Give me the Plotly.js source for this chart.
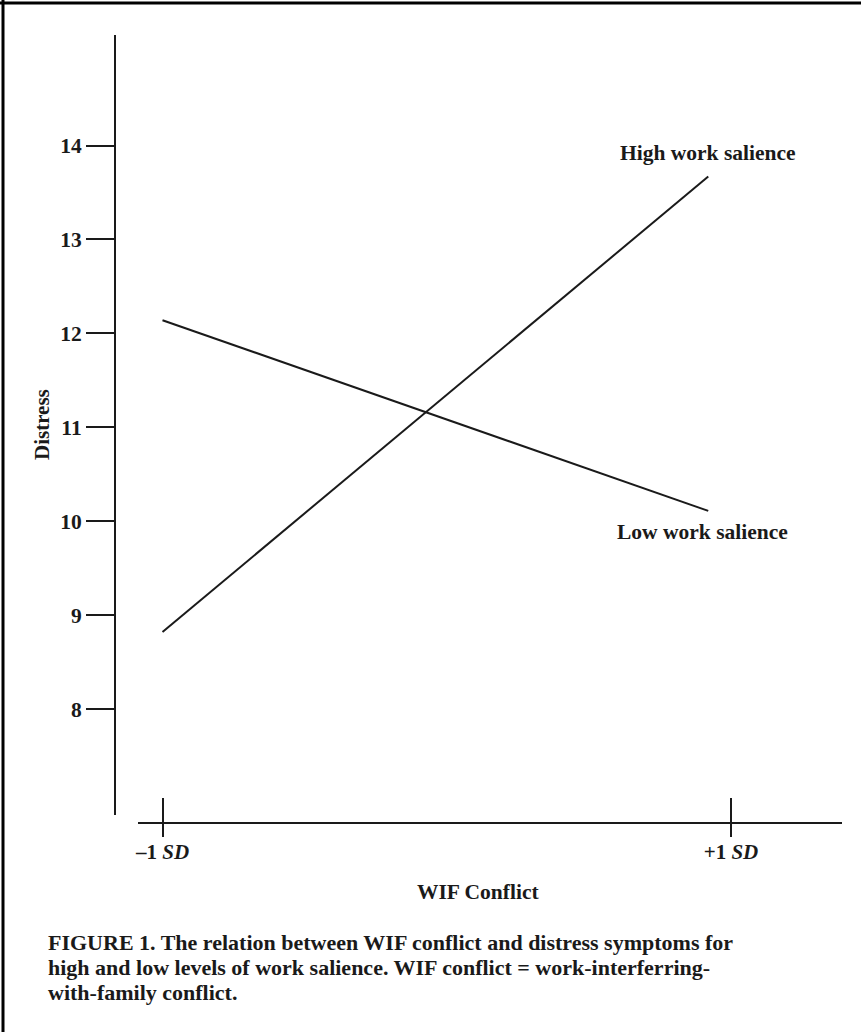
<!DOCTYPE html>
<html>
<head>
<meta charset="utf-8">
<script src="https://cdn.plot.ly/plotly-3.0.1.min.js"></script>
<style>html,body{margin:0;padding:0;background:#fff;}#chart{width:861px;height:1032px;}</style>
</head>
<body>
<div id="chart"></div>
<script>
// Data
const wifConflict = [-1, 0.92];            // x positions (in SD units)
const highSalience = [8.82, 13.67];        // Distress, high work salience
const lowSalience = [12.14, 10.11];        // Distress, low work salience
const xTickVals = [-1, 1];
const xTickText = ['–1 <i>SD</i>', '+1 <i>SD</i>'];
const yTickVals = [8, 9, 10, 11, 12, 13, 14];
const seriesNames = ['High work salience', 'Low work salience'];
const captionLines = [
  'FIGURE 1. The relation between WIF conflict and distress symptoms for',
  'high and low levels of work salience. WIF conflict = work-interferring-',
  'with-family conflict.'
];

const W = 861, H = 1032;
const px = v => v / W;
const py = v => 1 - v / H;
const FONT = 'Liberation Serif, Times New Roman, serif';
const INK = '#1a1a1a';

const lineStyle = {color: INK, width: 2};
const traces = [
  {x: wifConflict, y: highSalience, name: seriesNames[0], type: 'scatter', mode: 'lines', line: lineStyle, hoverinfo: 'none'},
  {x: wifConflict, y: lowSalience, name: seriesNames[1], type: 'scatter', mode: 'lines', line: lineStyle, hoverinfo: 'none'}
];

const txt = (text, x, y, size, extra) => Object.assign({
  text: text, x: x, y: y, xref: 'paper', yref: 'paper', showarrow: false,
  font: {family: FONT, size: size, color: INK, weight: 'bold'}
}, extra || {});

const annotations = [
  txt(seriesNames[0], px(618), py(153), 21.5, {xanchor: 'left', yanchor: 'middle'}),
  txt(seriesNames[1], px(615), py(532), 21.5, {xanchor: 'left', yanchor: 'middle'}),
  txt('Distress', px(42), py(425), 21, {xanchor: 'center', yanchor: 'middle', textangle: -90}),
  txt('WIF Conflict', px(478), py(892), 21.5, {xanchor: 'center', yanchor: 'middle'}),
  txt(captionLines[0], px(46), py(942), 22, {xanchor: 'left', yanchor: 'middle'}),
  txt(captionLines[1], px(46), py(967), 22, {xanchor: 'left', yanchor: 'middle'}),
  txt(captionLines[2], px(46), py(992), 22, {xanchor: 'left', yanchor: 'middle'})
];

const layout = {
  width: W, height: H,
  margin: {l: 0, r: 0, t: 0, b: 0, pad: 0},
  paper_bgcolor: '#fff', plot_bgcolor: 'rgba(0,0,0,0)',
  showlegend: false,
  font: {family: FONT, color: INK},
  xaxis: {
    domain: [px(138), px(842)],
    range: [-1.0862, 1.3905],
    anchor: 'free', position: py(837),
    showline: false, showgrid: false, zeroline: false,
    ticks: 'inside', ticklen: 39, tickwidth: 2, tickcolor: INK,
    tickmode: 'array', tickvals: xTickVals, ticktext: xTickText,
    tickfont: {family: FONT, size: 21, color: INK, weight: 'bold'},
    fixedrange: true, automargin: false
  },
  yaxis: {
    domain: [py(815), py(35)],
    range: [6.871, 15.177],
    anchor: 'free', position: px(115),
    showline: true, linewidth: 2, linecolor: INK,
    showgrid: false, zeroline: false,
    ticks: 'outside', ticklen: 28, tickwidth: 2, tickcolor: INK,
    tickmode: 'array', tickvals: yTickVals,
    tickfont: {family: FONT, size: 21.5, color: INK, weight: 'bold'},
    fixedrange: true, automargin: false
  },
  shapes: [
    // x axis line
    {type: 'line', xref: 'paper', yref: 'paper', x0: px(138), x1: px(842), y0: py(823), y1: py(823), line: {color: INK, width: 2}},
    // figure frame (top and left)
    {type: 'line', xref: 'paper', yref: 'paper', x0: 0, x1: 1, y0: py(3), y1: py(3), line: {color: '#000', width: 3}},
    {type: 'line', xref: 'paper', yref: 'paper', x0: px(3), x1: px(3), y0: 0, y1: 1, line: {color: '#000', width: 3}}
  ],
  annotations: annotations
};

Plotly.newPlot('chart', traces, layout, {displayModeBar: false, staticPlot: true});
</script>
</body>
</html>
